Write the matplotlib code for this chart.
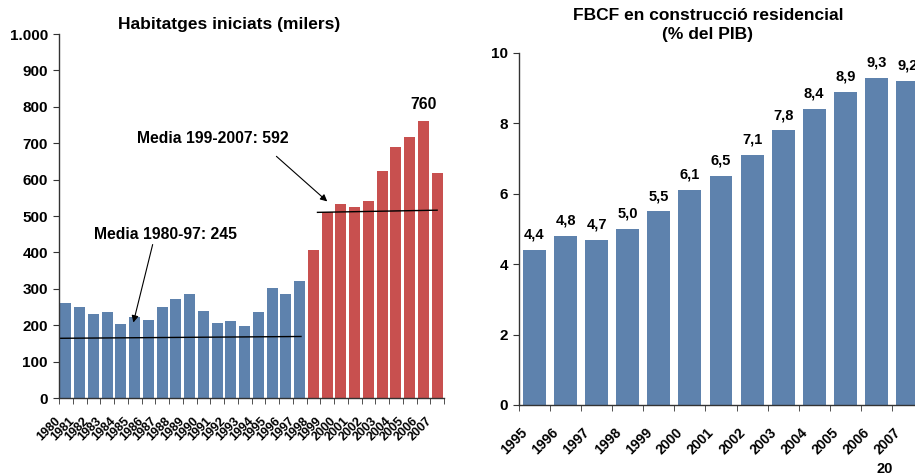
import numpy as np
import matplotlib.pyplot as plt
from matplotlib.transforms import blended_transform_factory, ScaledTranslation

plt.rcParams['font.family'] = ['Liberation Sans', 'DejaVu Sans']
plt.rcParams['font.weight'] = 'bold'

# habitatges iniciats (milers)
anys_h = [str(a) for a in range(1980, 2008)]
habitatges = [261, 249, 231, 236, 203, 222, 214, 249, 272, 286,
              239, 206, 212, 198, 236, 302, 286, 321, 407, 510,
              533, 525, 541, 624, 690, 717, 760, 618]
n_blau = 18  # 1980-1997
mitjana1_x = [-0.5, 17.1]
mitjana1_y = [164, 169]
mitjana2_x = [18.3, 27.0]
mitjana2_y = [510, 516]

# FBCF construccio residencial (% PIB)
anys_f = [str(a) for a in range(1995, 2008)]
fbcf = [4.4, 4.8, 4.7, 5.0, 5.5, 6.1, 6.5, 7.1, 7.8, 8.4, 8.9, 9.3, 9.2]

blau = '#5E82AD'
vermell = '#C8504F'
eix = '#333333'


def estil(ax):
    for s in ['top', 'right']:
        ax.spines[s].set_visible(False)
    for s in ['left', 'bottom']:
        ax.spines[s].set_color(eix)
        ax.spines[s].set_linewidth(1.0)
    ax.tick_params(axis='y', direction='out', length=4, color=eix, labelsize=11, pad=4)
    ax.tick_params(axis='x', which='major', length=0, labelbottom=False)
    ax.tick_params(axis='x', which='minor', direction='out', length=4, color=eix)


fig = plt.figure(figsize=(9.15, 4.75), dpi=100)

# ---- grafic esquerre ----
ax1 = fig.add_axes([59/915, 77/475, 385/915, 364/475])
x1 = np.arange(len(habitatges))
colors = [blau]*n_blau + [vermell]*(len(habitatges) - n_blau)
ax1.bar(x1, habitatges, width=0.8, color=colors)
ax1.set_xlim(-0.5, len(habitatges) - 0.5)
ax1.set_ylim(0, 1000)
ax1.set_yticks(range(0, 1001, 100))
ax1.set_yticklabels(['0', '100', '200', '300', '400', '500', '600', '700', '800', '900', '1.000'])
ax1.set_xticks(x1)
ax1.set_xticks(np.arange(-0.5, len(habitatges)), minor=True)
estil(ax1)
tr1 = blended_transform_factory(ax1.transData, ax1.transAxes) + \
    ScaledTranslation(-7/100, -21/100, fig.dpi_scale_trans)
for i, a in enumerate(anys_h):
    ax1.text(i, 0, a, transform=tr1, rotation=45, ha='right', va='center',
             rotation_mode='anchor', fontsize=9, fontweight='bold')

ax1.plot(mitjana1_x, mitjana1_y, color='black', lw=1)
ax1.plot(mitjana2_x, mitjana2_y, color='black', lw=1)
ax1.annotate('', xy=(4.86, 200), xytext=(6.36, 429),
             arrowprops=dict(arrowstyle='-|>', color='black', lw=0.8, mutation_scale=10))
ax1.text(7.25, 448, 'Media 1980-97: 245', ha='center', va='center', fontsize=11.3, fontweight='bold')
ax1.annotate('', xy=(19.16, 535), xytext=(15.16, 669),
             arrowprops=dict(arrowstyle='-|>', color='black', lw=0.8, mutation_scale=10))
ax1.text(10.7, 714, 'Media 199-2007: 592', ha='center', va='center', fontsize=11.3, fontweight='bold')
imax = int(np.argmax(habitatges))
ax1.annotate(str(habitatges[imax]), xy=(imax, habitatges[imax]), xytext=(0, 7),
             textcoords='offset points', ha='center', va='bottom', fontsize=11.3, fontweight='bold')
fig.text(229/915, 1 - 25/475, 'Habitatges iniciats (milers)', ha='center', va='center',
         fontsize=12.5, fontweight='bold')

# ---- grafic dret ----
ax2 = fig.add_axes([519/915, 70/475, 404/915, 352/475])
x2 = np.arange(len(fbcf))
ax2.bar(x2, fbcf, width=0.74, color=blau)
ax2.set_xlim(-0.5, len(fbcf) - 0.5)
ax2.set_ylim(0, 10)
ax2.set_yticks(range(0, 11, 2))
ax2.set_xticks(x2)
ax2.set_xticks(np.arange(-0.5, len(fbcf)), minor=True)
estil(ax2)
tr2 = blended_transform_factory(ax2.transData, ax2.transAxes) + \
    ScaledTranslation(-9/100, -25/100, fig.dpi_scale_trans)
for i, a in enumerate(anys_f):
    ax2.text(i, 0, a, transform=tr2, rotation=45, ha='right', va='center',
             rotation_mode='anchor', fontsize=10, fontweight='bold')
for i, v in enumerate(fbcf):
    ax2.annotate(f'{v:.1f}'.replace('.', ','), xy=(i, v), xytext=(0, 6),
                 textcoords='offset points', ha='center', va='bottom',
                 fontsize=10.5, fontweight='bold', annotation_clip=False)
fig.text(708/915, 1 - 25/475, 'FBCF en construcció residencial\n(% del PIB)', ha='center',
         va='center', fontsize=12.5, fontweight='bold', linespacing=1.4)
fig.text(885/915, 1 - 469/475, '20', ha='center', va='center', fontsize=10.5, fontweight='bold')

fig.savefig('out.png', dpi=100)
